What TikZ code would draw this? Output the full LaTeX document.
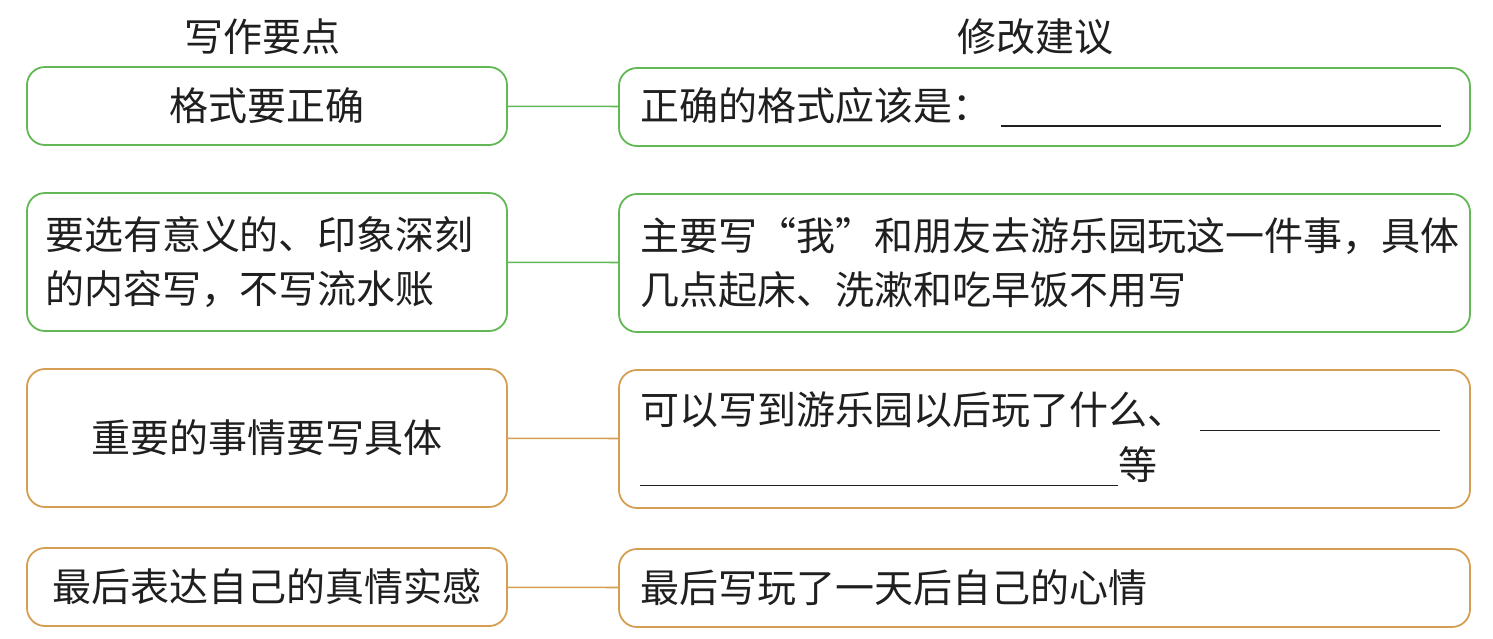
\documentclass[tikz,border=0pt]{standalone}
\usepackage{fontspec}
\usepackage{xcolor}
\newfontfamily\cjk{Noto Sans CJK SC}
\definecolor{ptgreen}{RGB}{98,184,84}
\definecolor{ptorange}{RGB}{214,158,82}
\newcommand{\blankline}[1]{\rule[-3.5pt]{#1}{0.9pt}}

\begin{document}
\begin{tikzpicture}[x=0.5pt,y=-0.5pt,
    font=\cjk\fontsize{19.5}{27}\selectfont, text=black!88,
    pointbox/.style={draw=#1, line width=0.9pt, rounded corners=9pt,
        text width=222pt, inner xsep=9pt, align=center},
    advicebox/.style={draw=#1, line width=0.9pt, rounded corners=9pt,
        text width=404.5pt, inner xsep=10.5pt, align=left},
    link/.style={draw=#1, line width=0.8pt}]
    \useasboundingbox (0,0) rectangle (1493,638);

    % Column titles
    \node (titleL) at (262,37) {写作要点};
    \node (titleR) at (1035,37) {修改建议};

    % Writing points (left column)
    \node[pointbox=ptgreen, minimum height=39pt] (p1) at (267,106) {格式要正确};
    \node[pointbox=ptgreen, minimum height=69pt, align=left] (p2) at (267,262)
        {要选有意义的、印象深刻\\的内容写，不写流水账};
    \node[pointbox=ptorange, minimum height=69pt] (p3) at (267,438) {重要的事情要写具体};
    \node[pointbox=ptorange, minimum height=39pt] (p4) at (267,587) {最后表达自己的真情实感};

    % Suggestions (right column)
    \node[advicebox=ptgreen, minimum height=39pt] (s1) at (1044.5,107)
        {正确的格式应该是：\hspace{5pt}\blankline{220pt}};
    \node[advicebox=ptgreen, minimum height=69pt] (s2) at (1044.5,263)
        {主要写“我”和朋友去游乐园玩这一件事，具体\\几点起床、洗漱和吃早饭不用写};
    \node[advicebox=ptorange, minimum height=69pt] (s3) at (1044.5,439)
        {可以写到游乐园以后玩了什么、\hspace{7pt}\blankline{120pt}\\[0.5pt]\blankline{239pt}等};
    \node[advicebox=ptorange, minimum height=39pt] (s4) at (1044.5,588)
        {最后写玩了一天后自己的心情};

    % Links between the columns
    \draw[link=ptgreen] (p1) -- (s1);
    \draw[link=ptgreen] (p2) -- (s2);
    \draw[link=ptorange] (p3) -- (s3);
    \draw[link=ptorange] (p4) -- (s4);
\end{tikzpicture}
\end{document}
